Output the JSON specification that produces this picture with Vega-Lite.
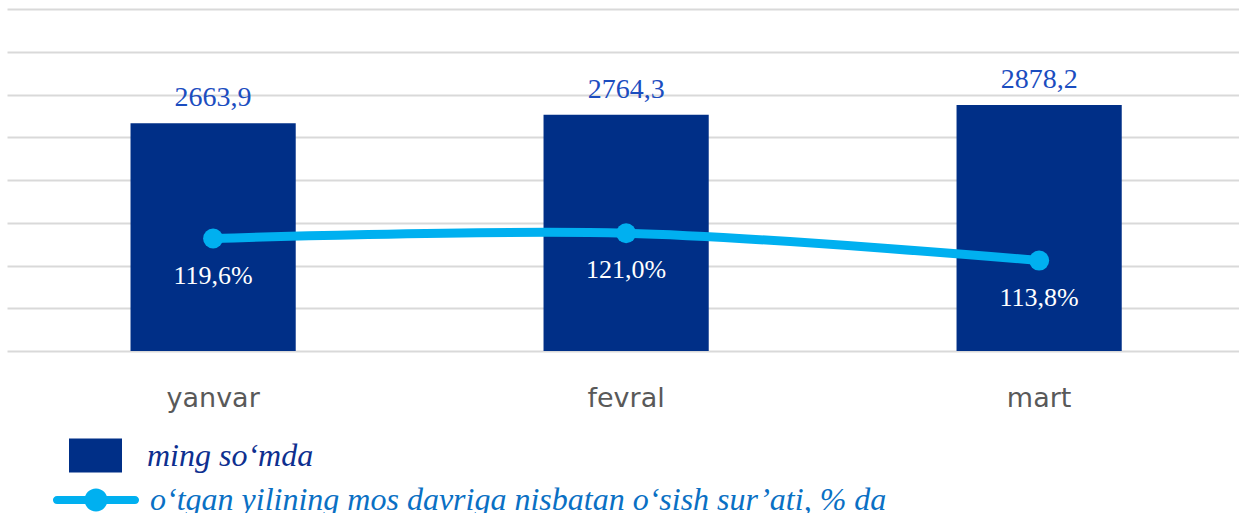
{
  "$schema": "https://vega.github.io/schema/vega-lite/v6.json",
  "width": 1232,
  "height": 342,
  "autosize": {"type": "none"},
  "padding": {"left": 7, "top": 9, "right": 0, "bottom": 162},
  "config": {
    "view": {"stroke": null},
    "locale": {"number": {"decimal": ",", "thousands": " ", "grouping": [3], "currency": ["", ""]}}
  },
  "data": {"values": [
    {"month": "yanvar", "value": 2663.9, "growth": 1.196},
    {"month": "fevral", "value": 2764.3, "growth": 1.210},
    {"month": "mart", "value": 2878.2, "growth": 1.138}
  ]},
  "encoding": {
    "x": {
      "field": "month", "type": "nominal", "sort": null,
      "scale": {"paddingInner": 0.6, "paddingOuter": 0.2915, "align": 0.513},
      "axis": {"title": null, "domain": false, "ticks": false, "tickSize": 0, "labelAngle": 0,
        "labelFont": "DejaVu Sans", "labelFontSize": 27, "labelColor": "#595959",
        "labelPadding": 47, "labelBaseline": "middle"}
    }
  },
  "layer": [
    {
      "encoding": {
        "y": {"field": "value", "type": "quantitative",
          "scale": {"domain": [0, 4000], "nice": false},
          "axis": {"title": null, "domain": false, "ticks": false, "labels": false, "grid": true,
            "gridColor": "#d9d9d9", "gridWidth": 2,
            "values": [0, 500, 1000, 1500, 2000, 2500, 3000, 3500, 4000]}}
      },
      "layer": [
        {
          "mark": {"type": "bar"},
          "encoding": {
            "fill": {"datum": "ming so‘mda", "type": "nominal",
              "scale": {"range": ["#002F87"]},
              "legend": {"title": null, "orient": "none", "legendX": 62, "legendY": 420,
                "symbolType": "M-1,-0.64H1V0.64H-1Z", "symbolSize": 2809, "symbolStrokeWidth": 0,
                "labelFont": "Liberation Serif", "labelFontStyle": "italic", "labelFontSize": 32,
                "labelColor": "#0E2F8F", "labelOffset": 25, "padding": 0, "labelLimit": 0}}
          }
        },
        {
          "mark": {"type": "text", "font": "Liberation Serif", "fontSize": 28, "color": "#1B4DBF",
            "baseline": "alphabetic", "dy": -17},
          "encoding": {"text": {"field": "value", "type": "quantitative", "format": ".1f"}}
        }
      ]
    },
    {
      "encoding": {
        "y": {"field": "growth", "type": "quantitative",
          "scale": {"domain": [0.9, 1.8], "nice": false, "zero": false},
          "axis": null}
      },
      "layer": [
        {
          "mark": {"type": "line", "interpolate": "catmull-rom", "strokeWidth": 9},
          "encoding": {
            "stroke": {"datum": "o‘tgan yilining mos davriga nisbatan o‘sish sur’ati, % da", "type": "nominal",
              "scale": {"range": ["#00B0F0"]},
              "legend": {"title": null, "orient": "none", "legendX": 48, "legendY": 450,
                "symbolType": "M-0.95,-0.1H0.95A0.1,0.1 0 0,1 0.95,0.1H-0.95A0.1,0.1 0 0,1 -0.95,-0.1Z M0.28,0A0.28,0.28 0 1,1 -0.28,0A0.28,0.28 0 1,1 0.28,0Z",
                "symbolSize": 6724, "symbolStrokeWidth": 0, "symbolFillColor": "#00B0F0",
                "labelFont": "Liberation Serif", "labelFontStyle": "italic", "labelFontSize": 32,
                "labelColor": "#0A70C4", "labelOffset": 13, "padding": 0, "labelLimit": 0,
                "encode": {"symbols": {"update": {"fill": {"value": "#00B0F0"}, "strokeWidth": {"value": 0}}}}}}
          }
        },
        {
          "mark": {"type": "circle", "size": 400, "color": "#00B0F0", "opacity": 1}
        },
        {
          "mark": {"type": "text", "font": "Liberation Serif", "fontSize": 26, "color": "white",
            "baseline": "alphabetic", "dy": 45},
          "encoding": {"text": {"field": "growth", "type": "quantitative", "format": ".1%"}}
        }
      ]
    }
  ],
  "resolve": {"scale": {"y": "independent"}}
}
